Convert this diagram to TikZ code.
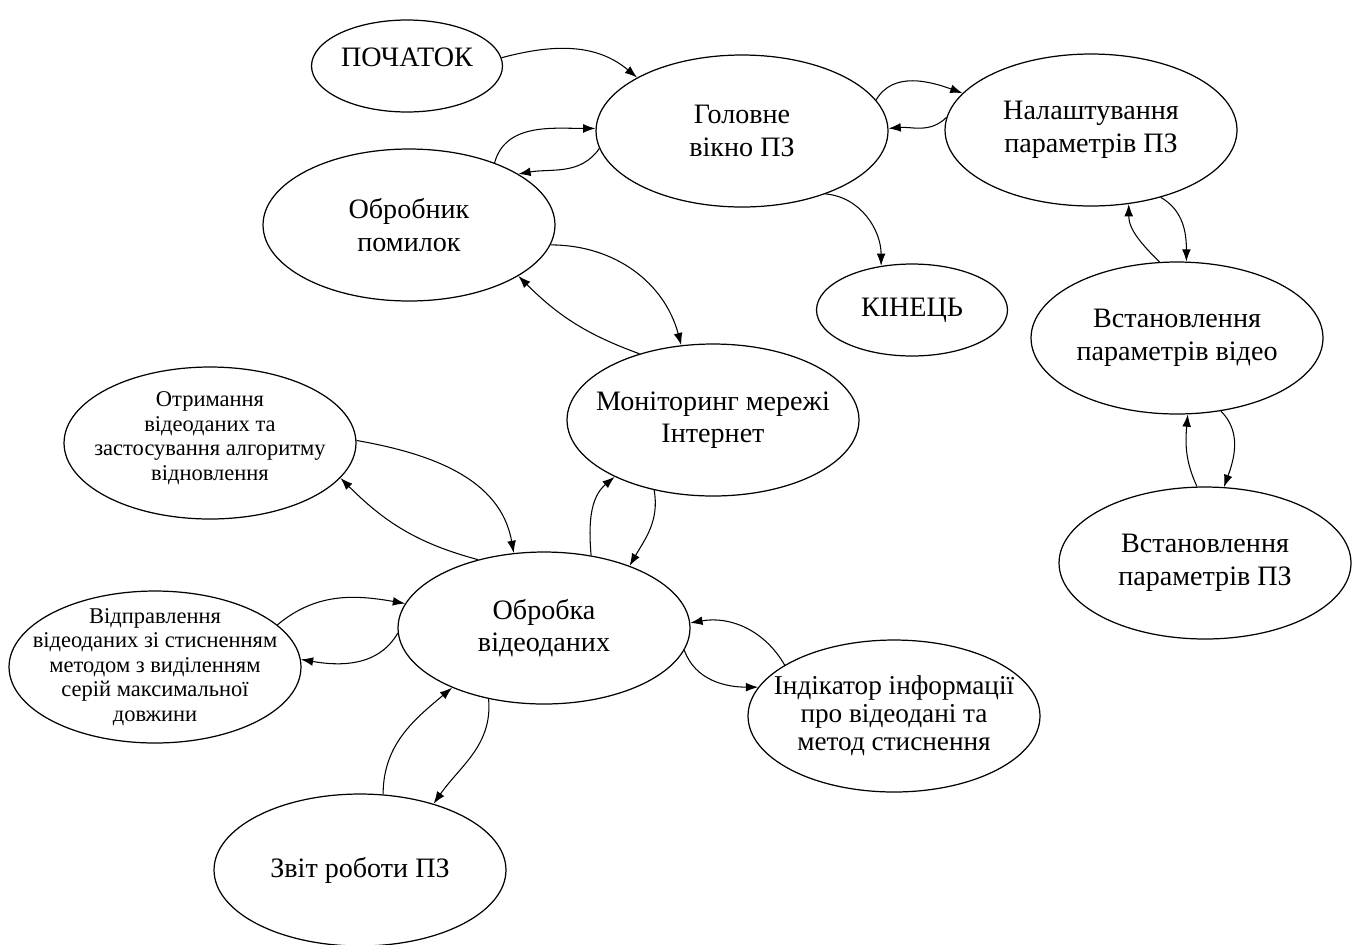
\documentclass[tikz,border=0pt]{standalone}
\usepackage{fontspec}
\setmainfont{Liberation Serif}
\newfontfamily\tymes{Liberation Serif}
\usetikzlibrary{shapes.geometric}
\usetikzlibrary{arrows.meta}

\begin{document}
\begin{tikzpicture}[x=0.02cm, y=-0.02cm,
    stan/.style={draw, ellipse, line width=0.7pt, align=center,
      inner xsep=-30pt, inner ysep=-20pt,
      minimum width=5.84cm, minimum height=3.04cm,
      font=\tymes\fontsize{16}{18.5}\selectfont},
    malyi/.style={stan, minimum width=3.82cm, minimum height=1.84cm},
    dribno/.style={font=\tymes\fontsize{12.8}{13.9}\selectfont},
    serednio/.style={font=\tymes\fontsize{15.5}{16}\selectfont},
    perehid/.style={-{Latex[length=7pt,width=5pt]}, line width=0.6pt}]
  \useasboundingbox (0,0) rectangle (1354,944);

  \node[malyi, text depth=10pt] (start) at (407,66) {ПОЧАТОК};
  \node[stan] (main) at (742,131) {Головне\\вікно ПЗ};
  \node[stan] (settings) at (1091,130) {Налаштування\\параметрів ПЗ};
  \node[stan] (errors) at (409,225) {Обробник\\помилок};
  \node[malyi] (finish) at (912,310) {КІНЕЦЬ};
  \node[stan] (vidset) at (1177,338) {Встановлення\\параметрів відео};
  \node[stan] (monitor) at (713,420) {Моніторинг мережі\\Інтернет};
  \node[stan, dribno, text depth=8pt] (receive) at (210,443) {Отримання\\відеоданих та\\застосування алгоритму\\відновлення};
  \node[stan] (pzset) at (1205,563) {Встановлення\\параметрів ПЗ};
  \node[stan] (process) at (544,628) {Обробка\\відеоданих};
  \node[stan, dribno] (send) at (155,667) {Відправлення\\відеоданих зі стисненням\\методом з виділенням\\серій максимальної\\довжини};
  \node[stan, serednio] (indicator) at (894,716) {Індікатор інформації\\про відеодані та\\метод стиснення};
  \node[stan] (report) at (360,870) {Звіт роботи ПЗ};

  \draw[perehid] (start.5) to[out=15, in=140] (main.153);
  \draw[perehid] (errors.36) to[out=75, in=180] (main.179);
  \draw[perehid] (main.187) to[out=235, in=10] (errors.25);
  \draw[perehid] (main.13) to[out=60, in=160] (settings.164);
  \draw[perehid] (settings.175) to[out=225, in=5] (main.1);
  \draw[perehid] (main.323) to[out=-5, in=90] (finish.125);
  \draw[perehid] (vidset.103) to[out=135, in=270] (settings.297);
  \draw[perehid] (settings.316) to[out=-30, in=90] (vidset.83);
  \draw[perehid] (pzset.96) to[out=115, in=265] (vidset.278);
  \draw[perehid] (vidset.301) to[out=-45, in=70] (pzset.76);
  \draw[perehid] (errors.352) to[out=0, in=105] (monitor.113);
  \draw[perehid] (monitor.138) to[out=160, in=315] (errors.335);
  \draw[perehid] (process.57) to[out=95, in=220] (monitor.210);
  \draw[perehid] (monitor.230) to[out=280, in=60] (process.36);
  \draw[perehid] (receive.1) to[out=-10, in=100] (process.112);
  \draw[perehid] (process.134) to[out=165, in=315] (receive.345);
  \draw[perehid] (send.19) to[out=40, in=170] (process.170);
  \draw[perehid] (process.182) to[out=240, in=350] (send.3);
  \draw[perehid] (indicator.155) to[out=120, in=10] (process.2);
  \draw[perehid] (process.351) to[out=-70, in=180] (indicator.168);
  \draw[perehid] (report.73) to[out=90, in=220] (process.213);
  \draw[perehid] (process.232) to[out=-85, in=55] (report.42);
\end{tikzpicture}
\end{document}
